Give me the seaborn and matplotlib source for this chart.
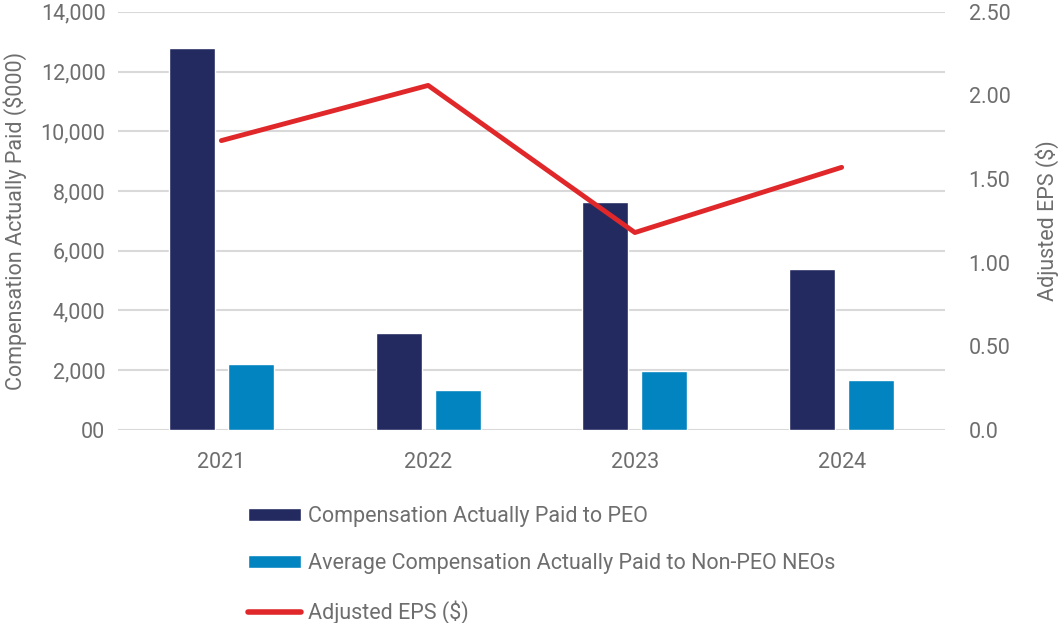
import pandas as pd
import seaborn as sns
import matplotlib.pyplot as plt
from matplotlib.patches import Patch
from matplotlib.lines import Line2D
from matplotlib.ticker import FuncFormatter

# data
years = ["2021", "2022", "2023", "2024"]
peo_cap = [12780, 3250, 7640, 5380]
neo_cap = [2210, 1340, 1980, 1670]
adj_eps = [1.73, 2.06, 1.18, 1.57]

series_names = ["Compensation Actually Paid to PEO",
                "Average Compensation Actually Paid to Non-PEO NEOs"]
eps_name = "Adjusted EPS ($)"

navy = "#222a5f"
blue = "#0284c1"
red = "#e0282b"
grey_txt = "#6e6e6e"
grid_col = "#d9d9d9"

df = pd.DataFrame({
    "year": years * 2,
    "value": peo_cap + neo_cap,
    "series": [series_names[0]] * 4 + [series_names[1]] * 4,
})

sns.set_style("white")
plt.rcParams["font.family"] = ["Roboto", "DejaVu Sans"]

fs = 15.5

fig = plt.figure(figsize=(10.63, 6.23), dpi=100)
ax = fig.add_axes([0.111, 0.310, 0.778, 0.671])

sns.barplot(data=df, x="year", y="value", hue="series", ax=ax,
            palette=[navy, blue], width=0.57, gap=0.22, legend=False,
            saturation=1)

ax.set_ylim(0, 14000)
ax.set_yticks(range(0, 14001, 2000))
ax.yaxis.set_major_formatter(FuncFormatter(lambda v, p: "00" if v == 0 else f"{int(v):,}"))
ax.grid(axis="y", color=grid_col, linewidth=1.5)
ax.set_axisbelow(True)
for s in ax.spines.values():
    s.set_visible(False)
ax.tick_params(axis="y", length=0, labelsize=fs, labelcolor=grey_txt, pad=9)
ax.tick_params(axis="x", length=0, labelsize=fs, labelcolor=grey_txt, pad=16)
ax.set_xlabel("")
ax.set_ylabel("Compensation Actually Paid ($000)", fontsize=fs, color=grey_txt, labelpad=10)

ax2 = ax.twinx()
sns.pointplot(x=years, y=adj_eps, ax=ax2, color=red, markers="", linewidth=3.5)
ax2.set_ylim(0, 2.5)
ax2.set_yticks([0, 0.5, 1.0, 1.5, 2.0, 2.5])
ax2.set_yticklabels(["0.0", "0.50", "1.00", "1.50", "2.00", "2.50"])
for s in ax2.spines.values():
    s.set_visible(False)
ax2.tick_params(axis="y", length=0, labelsize=fs, labelcolor=grey_txt, pad=17)
ax2.set_ylabel(eps_name, fontsize=fs, color=grey_txt, labelpad=18)
ax2.set_xlim(-0.5, 3.5)
ax.set_xlim(-0.5, 3.5)

handles = [Patch(facecolor=navy, label=series_names[0]),
           Patch(facecolor=blue, label=series_names[1]),
           Line2D([0], [0], color=red, linewidth=4, label=eps_name)]
leg = fig.legend(handles=handles, loc="upper left", bbox_to_anchor=(0.233, 0.187),
                 frameon=False, fontsize=fs, handlelength=2.5, handleheight=0.55,
                 handletextpad=0.3, labelspacing=1.2, borderaxespad=0, borderpad=0)
for t in leg.get_texts():
    t.set_color(grey_txt)

fig.savefig("out.png", dpi=100)
